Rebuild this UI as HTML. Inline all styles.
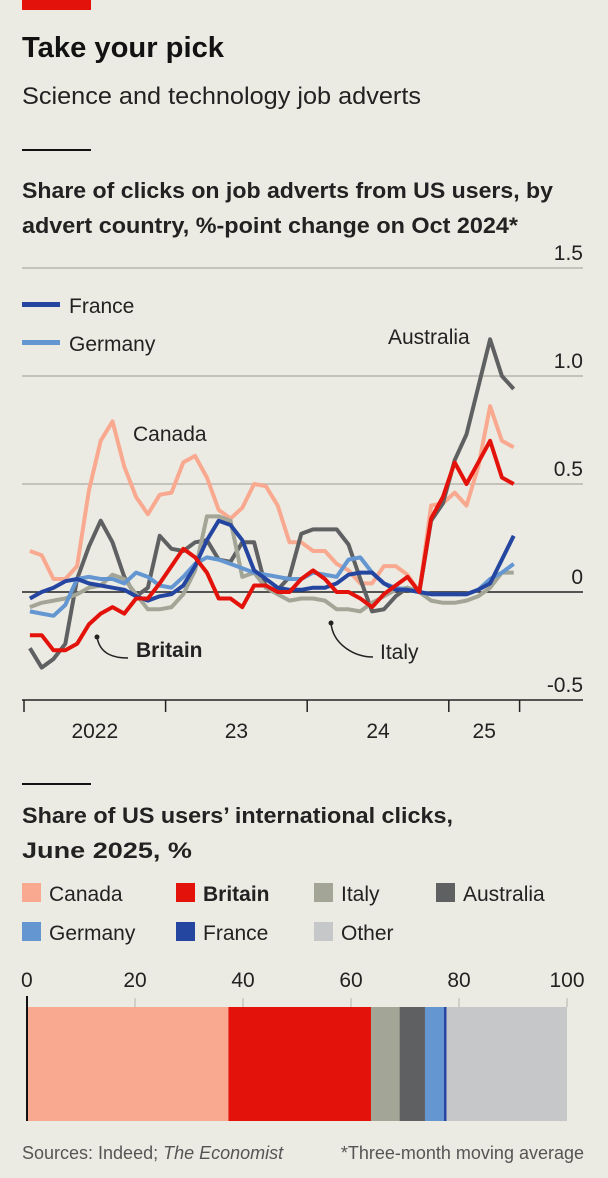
<!DOCTYPE html>
<html><head><meta charset="utf-8">
<style>
html,body{margin:0;padding:0;background:#ecebe3;}
svg{display:block;font-family:"Liberation Sans",sans-serif;}
</style></head>
<body>
<svg id="chart" width="608" height="1178" viewBox="0 0 608 1178" xmlns="http://www.w3.org/2000/svg">
<rect x="0" y="0" width="608" height="1178" fill="#ecebe3"/>
<rect x="22" y="0" width="69" height="10" fill="#e3120b"/>
<text x="22" y="57" font-size="29" font-weight="bold" fill="#121212" textLength="202" lengthAdjust="spacingAndGlyphs">Take your pick</text>
<text x="22" y="104" font-size="24" fill="#222" textLength="399" lengthAdjust="spacingAndGlyphs">Science and technology job adverts</text>
<rect x="22" y="149" width="69" height="2" fill="#121212"/>
<text x="22" y="198" font-size="22" font-weight="bold" fill="#222" textLength="531" lengthAdjust="spacingAndGlyphs">Share of clicks on job adverts from US users, by</text>
<text x="22" y="233" font-size="22" font-weight="bold" fill="#222" textLength="496" lengthAdjust="spacingAndGlyphs">advert country, %-point change on Oct 2024*</text>
<g id="lineChart"></g>
<g id="lineLabels">
<rect x="22" y="302" width="38" height="5" fill="#2445a0"/>
<text x="69" y="313" font-size="21" fill="#222">France</text>
<rect x="22" y="340" width="38" height="5" fill="#6497d2"/>
<text x="69" y="351" font-size="21" fill="#222">Germany</text>
<text x="133" y="441" font-size="21" fill="#222">Canada</text>
<text x="388" y="344" font-size="21" fill="#222">Australia</text>
<path d="M97,637 C100,655 115,658 128,658" fill="none" stroke="#222" stroke-width="1.5"/>
<circle cx="97" cy="637" r="2.5" fill="#222"/>
<text x="136" y="657" font-size="21" font-weight="bold" fill="#222">Britain</text>
<path d="M331,623 C333,645 355,657 373,657" fill="none" stroke="#222" stroke-width="1.5"/>
<circle cx="331" cy="623" r="2.5" fill="#222"/>
<text x="380" y="659" font-size="21" fill="#222">Italy</text>
</g>
<rect x="22" y="783" width="69" height="2" fill="#121212"/>
<text x="22" y="823" font-size="22" font-weight="bold" fill="#222" textLength="431" lengthAdjust="spacingAndGlyphs">Share of US users’ international clicks,</text>
<text x="22" y="858" font-size="22" font-weight="bold" fill="#222" textLength="170" lengthAdjust="spacingAndGlyphs">June 2025, %</text>
<g id="barLegend"></g>
<g id="barChart"></g>
<text x="22" y="1159" font-size="18" fill="#555">Sources: Indeed; <tspan font-style="italic">The Economist</tspan></text>
<text x="584" y="1159" font-size="18" fill="#555" text-anchor="end">*Three-month moving average</text>
</svg>
<script>
const NS="http://www.w3.org/2000/svg";
const months=42; // Jan 2022 .. Jun 2025
const yTicks=[1.5,1.0,0.5,0,-0.5];
const yTickLabels=["1.5","1.0","0.5","0","-0.5"];
const xTickMonths=[0,12,24,36,42];
const yearLabels=["2022","23","24","25"];
const yearLabelMonths=[6,18,30,39];
const canada=[0.19,0.17,0.06,0.06,0.12,0.47,0.7,0.79,0.58,0.44,0.36,0.45,0.46,0.6,0.63,0.53,0.38,0.34,0.39,0.5,0.49,0.4,0.23,0.23,0.19,0.19,0.13,0.1,0.04,0.04,0.12,0.12,0.08,0,0.4,0.41,0.46,0.4,0.58,0.86,0.7,0.67];
const australia=[-0.26,-0.35,-0.31,-0.24,0.06,0.21,0.33,0.23,0.07,-0.02,0.02,0.26,0.2,0.19,0.23,0.24,0.15,0.14,0.23,0.23,0.02,0.01,0.07,0.27,0.29,0.29,0.29,0.22,0.06,-0.09,-0.08,-0.02,0.02,0,0.33,0.41,0.61,0.73,0.95,1.17,1.0,0.94];
const italy=[-0.07,-0.05,-0.04,-0.03,-0.01,0.02,0.03,0.08,0.06,-0.01,-0.08,-0.08,-0.07,-0.01,0.1,0.35,0.35,0.33,0.07,0.09,0.02,-0.01,-0.04,-0.03,-0.03,-0.04,-0.08,-0.08,-0.09,-0.05,-0.02,0.01,0.02,0,-0.04,-0.05,-0.05,-0.04,-0.02,0.02,0.09,0.09];
const germany=[-0.09,-0.1,-0.11,-0.06,0.06,0.07,0.06,0.06,0.04,0.09,0.07,0.03,0.02,0.07,0.13,0.16,0.15,0.13,0.11,0.09,0.08,0.07,0.06,0.06,0.09,0.08,0.07,0.15,0.16,0.09,0.04,0.02,0.01,0,-0.01,-0.01,-0.01,-0.01,0.01,0.06,0.09,0.13];
const france=[-0.03,0,0.02,0.05,0.06,0.04,0.03,0.02,0.01,-0.02,-0.04,-0.02,-0.01,0.03,0.12,0.24,0.33,0.31,0.24,0.1,0.06,0.02,0.01,0.01,0.02,0.02,0.04,0.08,0.09,0.09,0.04,0.01,0.01,0,-0.01,-0.01,-0.01,-0.01,0.01,0.04,0.15,0.26];
const britain=[-0.2,-0.2,-0.27,-0.27,-0.24,-0.15,-0.1,-0.07,-0.1,-0.03,-0.03,0.04,0.12,0.2,0.16,0.09,-0.03,-0.03,-0.07,0.03,0.03,0,0,0.06,0.1,0.06,0,0,-0.03,-0.07,-0.01,0.03,0.07,0,0.34,0.44,0.6,0.5,0.6,0.7,0.53,0.5];
const barCategories=["Canada","Britain","Italy","Australia","Germany","France","Other"];
const barValues=[37.3,26.4,5.3,4.7,3.5,0.5,22.3];
const barTicks=[0,20,40,60,80,100];

const X=m=>24+11.8*m;
const Y=v=>592-216*v;
const BX=v=>27+5.4*v;

const lc=document.getElementById('lineChart');
function mk(tag,attrs,parent){const e=document.createElementNS(NS,tag);for(const k in attrs)e.setAttribute(k,attrs[k]);parent.appendChild(e);return e;}
yTicks.forEach((t,i)=>{
  if(t!==-0.5){
    const g=mk('line',{x1:22,x2:583,y1:Y(t),y2:Y(t),stroke:t===0?'#222':'#c4c3bb','stroke-width':t===0?1.5:2},lc);
    
    
  }
  const tx=mk('text',{x:583,y:Y(t)-8,'font-size':21,fill:'#222','text-anchor':'end'},lc);
  tx.textContent=yTickLabels[i];
  
  
});
const ax=mk('line',{x1:22,x2:583,y1:700,y2:700,stroke:'#222','stroke-width':1.5},lc);


xTickMonths.forEach(m=>{
  const t=mk('line',{x1:X(m),x2:X(m),y1:700,y2:712,stroke:'#222','stroke-width':1.5},lc);
  
  
});
yearLabels.forEach((l,i)=>{
  const t=mk('text',{x:X(yearLabelMonths[i]),y:738,'font-size':21,fill:'#222','text-anchor':'middle'},lc);
  t.textContent=l;
  
  
});
const series=[['canada',canada,'#f8a98f'],['australia',australia,'#5f6062'],['italy',italy,'#a3a596'],['germany',germany,'#6497d2'],['france',france,'#2445a0'],['britain',britain,'#e3120b']];
series.forEach(([n,d,c])=>{
  const pts=d.map((v,i)=>X(i+0.5).toFixed(1)+','+Y(v).toFixed(1)).join(' ');
  const p=mk('polyline',{points:pts,fill:'none',stroke:c,'stroke-width':4,'stroke-linejoin':'round'},lc);
  
  
});

const colors=["#f8a98f","#e3120b","#a3a596","#5f6062","#6497d2","#2445a0","#c6c7c9"];
const lg=document.getElementById('barLegend');
const legPos=[[22,893],[176,893],[314,893],[436,893],[22,932],[176,932],[314,932]];
barCategories.forEach((c,i)=>{
  const [x,y]=legPos[i];
  const r=mk('rect',{x:x,y:y-10,width:19,height:19,fill:colors[i]},lg);
  
  
  const t=mk('text',{x:x+27,y:y+8,'font-size':21,fill:'#222','font-weight':c==='Britain'?'bold':'normal'},lg);
  t.textContent=c;
  
  
});
const bc=document.getElementById('barChart');
barTicks.forEach(t=>{
  const l=mk('line',{x1:BX(t),x2:BX(t),y1:998,y2:1007,stroke:'#b5b4ac','stroke-width':1},bc);
  
  
  const tx=mk('text',{x:t===0?BX(t)-6:BX(t),y:987,'font-size':21,fill:'#222','text-anchor':t===0?'start':'middle'},bc);
  tx.textContent=t;
  
  
});
let cum=0;
barValues.forEach((v,i)=>{
  const r=mk('rect',{x:BX(cum),y:1007,width:BX(cum+v)-BX(cum),height:114,fill:colors[i]},bc);
  
  
  cum+=v;
});
const z=mk('line',{x1:BX(0),x2:BX(0),y1:996,y2:1121,stroke:'#121212','stroke-width':2},bc);


</script>
</body></html>
